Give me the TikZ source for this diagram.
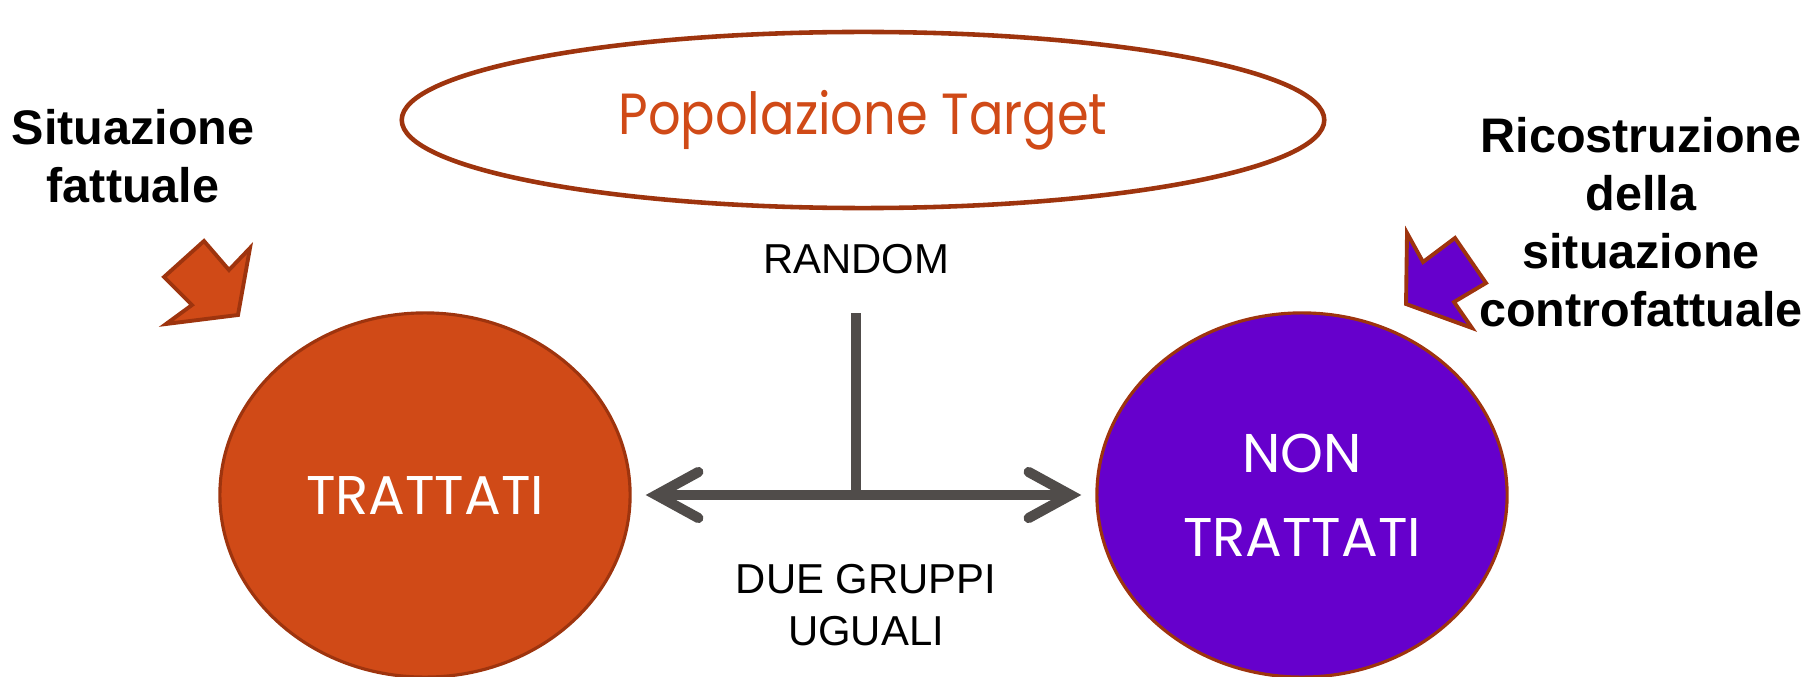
\documentclass[tikz,border=0pt]{standalone}
\usepackage{fontspec}
\setmainfont{Liberation Sans}
\newfontfamily\geofont{Poppins}
\usetikzlibrary{shapes.geometric,arrows.meta}

\definecolor{rust}{RGB}{208,74,23}
\definecolor{rustline}{RGB}{158,52,14}
\definecolor{violet}{RGB}{102,0,204}
\definecolor{darkgrey}{RGB}{80,76,74}

\tikzset{
  group/.style={ellipse, draw=rustline, inner sep=0pt,
    minimum width=4.1cm, minimum height=3.64cm, text=white,
    font=\geofont\fontsize{15.5pt}{22pt}\selectfont, align=center},
  note/.style={align=center, font=\bfseries\fontsize{13.8pt}{16.5pt}\selectfont},
  plain/.style={align=center, font=\fontsize{11.9pt}{14.8pt}\selectfont},
  callout/.style={draw=rustline, line width=1.1pt, line join=miter},
  link/.style={draw=darkgrey, line width=2.9pt},
  barb/.tip={Straight Barb[length=4.2mm,width=4.6mm,line cap=round]},
}

\begin{document}
\begin{tikzpicture}[x=0.01cm, y=-0.01cm]
  \useasboundingbox (0,0) rectangle (1816,676);

  % population ellipse
  \node (pop) [ellipse, draw=rustline, line width=1.3pt, inner sep=0pt,
    minimum width=9.22cm, minimum height=1.76cm, text=rust,
    font=\geofont\fontsize{16.5pt}{20pt}\selectfont] at (863,120)
    {\scalebox{0.88}[1]{Popolazione Target}};

  % the two groups
  \node (tr) [group, fill=rust, line width=0.9pt] at (425,495) {TRATTATI};
  \node (nt) [group, fill=violet, line width=0.9pt] at (1302,495) {NON\\[2pt]TRATTATI};

  % side captions
  \node (fact) [note] at (133,156) {Situazione\\fattuale};
  \node (cf) [note] at (1641,222) {Ricostruzione\\della\\situazione\\controfattuale};

  % random split
  \node (rand) [plain] at (856,259) {RANDOM};
  \node (same) [plain] at (866,605) {DUE GRUPPI\\UGUALI};
  \coordinate (split) at (856,313);

  \draw [link, barb-barb, shorten <=0.14cm, shorten >=0.14cm]
    (tr.east) -- (nt.west);
  \draw [link] (split) -- (split |- tr.east);

  % block arrows
  \draw [callout, fill=rust]
    (204,241) -- (229,270) -- (250,248) -- (238,315) -- (166,324)
    -- (192,305) -- (164,277) -- cycle;
  \draw [callout, fill=violet]
    (1407,233) -- (1423,262) -- (1455,238) -- (1486,283) -- (1454,302)
    -- (1472,328) -- (1406,304) -- cycle;
\end{tikzpicture}
\end{document}
